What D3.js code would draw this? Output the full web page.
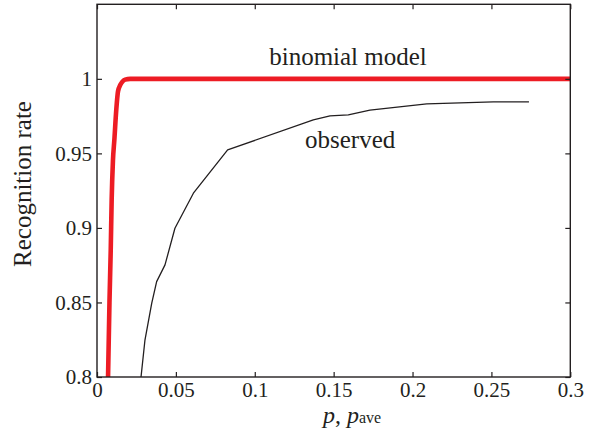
<!DOCTYPE html>
<html><head><meta charset="utf-8">
<script src="https://cdn.jsdelivr.net/npm/d3@7"></script>
<style>body{margin:0;background:#fff}svg{display:block}</style>
</head><body><div id="c"></div>
<script>
const xTicks = [0, 0.05, 0.1, 0.15, 0.2, 0.25, 0.3];
const xTickLabels = ["0", "0.05", "0.1", "0.15", "0.2", "0.25", "0.3"];
const yTicks = [0.8, 0.85, 0.9, 0.95, 1];
const yTickLabels = ["0.8", "0.85", "0.9", "0.95", "1"];

// binomial model (red)
const modelP    = [0.0070, 0.0079, 0.0087, 0.0093, 0.0101, 0.0110, 0.0122, 0.0133, 0.0148, 0.0160, 0.0178, 0.0210, 0.3];
const modelRate = [0.800, 0.850, 0.885, 0.919, 0.945, 0.959, 0.979, 0.9915, 0.996, 0.998, 0.9995, 1.000, 1.000];

// observed (black)
const obsP    = [0.0279, 0.0304, 0.0347, 0.0378, 0.0431, 0.0494, 0.0611, 0.0828, 0.1371, 0.1477, 0.1593, 0.1730, 0.2090, 0.2512, 0.2738];
const obsRate = [0.800, 0.8248, 0.8495, 0.864, 0.8752, 0.8998, 0.9233, 0.9523, 0.9725, 0.9752, 0.9758, 0.9790, 0.9832, 0.9846, 0.9846];

const W = 605, H = 435;
const m = {left: 97, top: 4.3, right: 34.7, bottom: 58};
const iw = W - m.left - m.right, ih = H - m.top - m.bottom;
const FONT = '"Liberation Serif"';
const ink = "#231f20";

const svg = d3.select("#c").append("svg").attr("width", W).attr("height", H);
const x = d3.scaleLinear().domain([0, 0.3]).range([m.left, m.left + iw]);
const y = d3.scaleLinear().domain([0.8, 1.05]).range([m.top + ih, m.top]);

svg.append("clipPath").attr("id", "clip").append("rect")
  .attr("x", m.left).attr("y", m.top).attr("width", iw).attr("height", ih);

const line = d3.line().x(d => x(d[0])).y(d => y(d[1]));
const modelData = modelP.map((p, i) => [p, modelRate[i]]);
const obsData = obsP.map((p, i) => [p, obsRate[i]]);

const g = svg.append("g").attr("clip-path", "url(#clip)");
g.append("path").datum(obsData).attr("d", line)
  .attr("fill", "none").attr("stroke", ink).attr("stroke-width", 1.3).attr("stroke-linejoin", "round");
g.append("path").datum(modelData).attr("d", line.curve(d3.curveMonotoneX))
  .attr("fill", "none").attr("stroke", "#ed1c24").attr("stroke-width", 4.6).attr("stroke-linejoin", "round");

const fmtX = d => xTickLabels[xTicks.indexOf(d)];
const fmtY = d => yTickLabels[yTicks.indexOf(d)];

const xb = svg.append("g").attr("transform", `translate(0,${m.top + ih})`)
  .call(d3.axisBottom(x).tickValues(xTicks).tickFormat(fmtX).tickSizeInner(-5).tickSizeOuter(0).tickPadding(5));
const xt = svg.append("g").attr("transform", `translate(0,${m.top})`)
  .call(d3.axisTop(x).tickValues(xTicks).tickFormat("").tickSizeInner(-5).tickSizeOuter(0));
const yl = svg.append("g").attr("transform", `translate(${m.left},0)`)
  .call(d3.axisLeft(y).tickValues(yTicks).tickFormat(fmtY).tickSizeInner(-5).tickSizeOuter(0).tickPadding(5));
const yr = svg.append("g").attr("transform", `translate(${m.left + iw},0)`)
  .call(d3.axisRight(y).tickValues(yTicks).tickFormat("").tickSizeInner(-5).tickSizeOuter(0));

[xb, xt, yl, yr].forEach(a => {
  a.attr("font-family", null);
  a.select(".domain").remove();
  a.selectAll(".tick line").attr("stroke", ink).attr("stroke-width", 1.2);
  a.selectAll("text").style("font-family", FONT).style("font-size", "21px").attr("fill", ink);
});

svg.append("rect").attr("x", m.left).attr("y", m.top).attr("width", iw).attr("height", ih)
  .attr("fill", "none").attr("stroke", ink).attr("stroke-width", 1.4);

svg.append("text").attr("x", 348).attr("y", 65).attr("text-anchor", "middle").attr("fill", ink)
  .style("font-family", FONT).style("font-size", "25px").text("binomial model");
svg.append("text").attr("x", 305).attr("y", 148).attr("fill", ink)
  .style("font-family", FONT).style("font-size", "25px").text("observed");

svg.append("text").attr("transform", "translate(31,184) rotate(-90)").attr("fill", ink)
  .attr("text-anchor", "middle").style("font-family", FONT).style("font-size", "25px").text("Recognition rate");

const xl = svg.append("text").attr("x", 323).attr("y", 423).attr("fill", ink)
  .style("font-family", FONT).style("font-size", "24px");
xl.append("tspan").style("font-style", "italic").text("p");
xl.append("tspan").text(", ");
xl.append("tspan").style("font-style", "italic").text("p");
xl.append("tspan").style("font-size", "16px").text("ave");
</script></body></html>
